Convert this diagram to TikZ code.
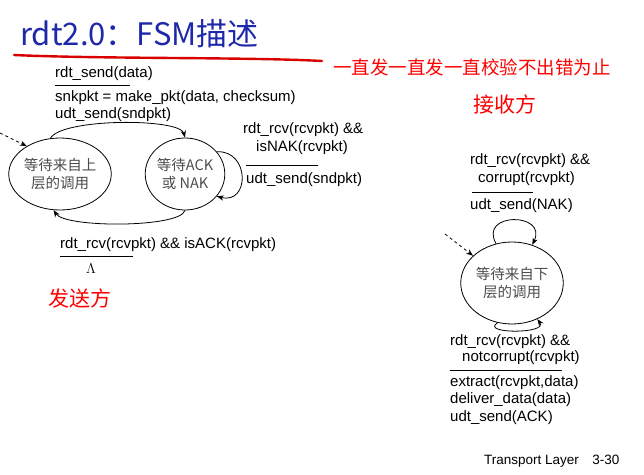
\documentclass[tikz,border=0pt]{standalone}
\usepackage{fontspec}
\setmainfont{Liberation Sans}
\newfontfamily\cjk{Noto Sans CJK SC}
\usetikzlibrary{arrows.meta,shapes.geometric}
\definecolor{titleblue}{RGB}{30,40,170}
\tikzset{
  lbl/.style={anchor=west,inner sep=0pt,font=\fontsize{15}{17}\selectfont},
  st/.style={draw,thick,ellipse,minimum width=76pt,minimum height=72pt,align=center,inner sep=0pt,font=\cjk\fontsize{14.5}{18}\selectfont,text=black!70},
  tr/.style={thick,-{Stealth[length=7pt]}},
  bar/.style={thick},
  redt/.style={text=red,font=\cjk\fontsize{21}{24}\selectfont}
}
\begin{document}
\begin{tikzpicture}[x=1pt,y=-1pt]
\useasboundingbox (0,0) rectangle (644,474);
\node[anchor=west,inner sep=0pt,text=titleblue,font=\cjk\fontsize{31}{33}\selectfont] (title) at (20,34) {rdt2.0：FSM描述};
\draw[red!85!black,line width=2.4pt,line cap=round] (14,55) .. controls (100,59) and (250,57) .. (322,61);
\node[anchor=west,inner sep=0pt,text=red,font=\cjk\fontsize{18.5}{20}\selectfont] (note) at (333,67) {一直发一直发一直校验不出错为止};
\node[redt] (recv) at (505,104) {接收方};
\node[redt,anchor=west,inner sep=0pt] (send) at (48,298) {发送方};
% sender states
\node[st] (s1) at (60,174) {等待来自上\\层的调用};
\node[st] (s2) at (185,174) {等待ACK\\或 NAK};
\coordinate (d1) at (0,133);
\draw[thick,dashed,-{Stealth[length=7pt]}] (d1) -- (s1.140);
\draw[tr] (s1.105) .. controls (62,118) and (180,118) .. (s2.north);
\draw[tr] (s2.south) .. controls (180,228) and (65,228) .. (s1.-100);
\draw[tr] (s2.35) .. controls (250,150) and (250,205) .. (s2.-35);
\node[lbl] (l1) at (55,74) {rdt\_send(data)};
\draw[bar] (55,85) -- (130,85);
\node[lbl] (l2) at (55,98) {snkpkt = make\_pkt(data, checksum)};
\node[lbl] (l3) at (55,115) {udt\_send(sndpkt)};
\node[lbl] (l4) at (243,130) {rdt\_rcv(rcvpkt) \&\&};
\node[lbl] (l5) at (256,148) {isNAK(rcvpkt)};
\draw[bar] (246,165) -- (318,165);
\node[lbl] (l6) at (246,180) {udt\_send(sndpkt)};
\node[lbl] (l7) at (60,245) {rdt\_rcv(rcvpkt) \&\& isACK(rcvpkt)};
\draw[bar] (60,256) -- (133,256);
\node[lbl] (l8) at (86,269) {$\Lambda$};
% receiver
\node[st,minimum width=70pt,minimum height=82pt] (r1) at (512,283) {等待来自下\\层的调用};
\coordinate (d2) at (445,234);
\draw[thick,dashed,-{Stealth[length=7pt]}] (d2) -- (r1.145);
\draw[tr] (r1.112) .. controls (478,212) and (548,212) .. (r1.62);
\draw[tr] (r1.-110) .. controls (480,334) and (548,334) .. (r1.-55);
\node[lbl] (m1) at (470,161) {rdt\_rcv(rcvpkt) \&\&};
\node[lbl] (m2) at (478,179) {corrupt(rcvpkt)};
\draw[bar] (472,192) -- (533,192);
\node[lbl] (m3) at (470,206) {udt\_send(NAK)};
\node[lbl] (n1) at (450,342) {rdt\_rcv(rcvpkt) \&\&};
\node[lbl] (n2) at (462,358) {notcorrupt(rcvpkt)};
\draw[bar] (450,370) -- (562,370);
\node[lbl] (n3) at (450,383) {extract(rcvpkt,data)};
\node[lbl] (n4) at (450,400) {deliver\_data(data)};
\node[lbl] (n5) at (450,418) {udt\_send(ACK)};
\node[anchor=west,inner sep=0pt,font=\fontsize{13.5}{15}\selectfont] (foot) at (484,461) {Transport Layer\quad 3-30};
\end{tikzpicture}
\end{document}
